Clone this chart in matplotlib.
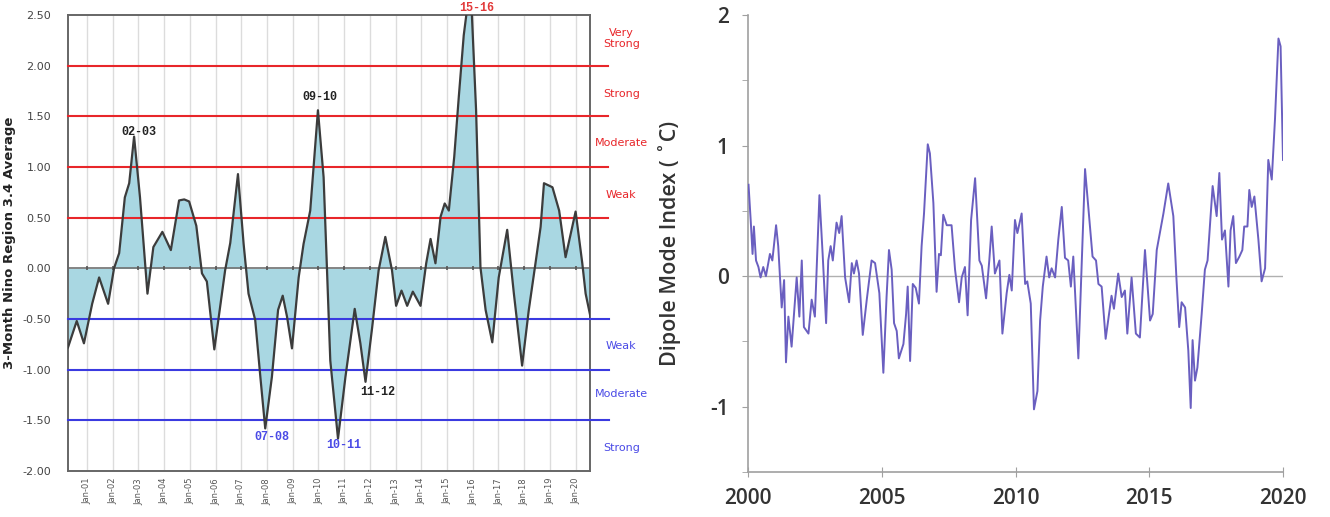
import matplotlib
matplotlib.use("Agg")
import matplotlib.pyplot as plt
import numpy as np

plt.rcParams["axes.unicode_minus"] = False

# ---------------- Left chart data (ONI, 3-month Nino 3.4 average) ----------------
enso_t = [2000.26, 2000.6, 2000.88, 2001.2, 2001.47, 2001.82, 2002.05, 2002.25, 2002.47, 2002.64,
          2002.83, 2003.06, 2003.35, 2003.58, 2003.93, 2004.26, 2004.58, 2004.78, 2004.97, 2005.25,
          2005.47, 2005.66, 2005.95, 2006.37, 2006.57, 2006.87, 2007.09, 2007.28, 2007.54, 2007.74,
          2007.93, 2008.19, 2008.43, 2008.61, 2008.78, 2008.97, 2009.23, 2009.42, 2009.68, 2009.98,
          2010.2, 2010.33, 2010.46, 2010.76, 2011.05, 2011.41, 2011.63, 2011.83, 2012.09, 2012.34,
          2012.6, 2012.86, 2013.02, 2013.23, 2013.45, 2013.67, 2013.97, 2014.19, 2014.36, 2014.55,
          2014.75, 2014.91, 2015.07, 2015.28, 2015.46, 2015.65, 2015.8, 2015.95, 2016.13, 2016.3,
          2016.5, 2016.76, 2017.01, 2017.34, 2017.6, 2017.92, 2018.18, 2018.44, 2018.64, 2018.77,
          2019.1, 2019.36, 2019.61, 2020.0, 2020.26, 2020.39, 2020.58]
enso_v = [-0.78, -0.52, -0.74, -0.35, -0.09, -0.35, 0.0, 0.15, 0.70, 0.84,
          1.30, 0.70, -0.25, 0.21, 0.36, 0.18, 0.67, 0.68, 0.66, 0.42,
          -0.05, -0.13, -0.80, -0.02, 0.25, 0.93, 0.24, -0.25, -0.51, -1.07,
          -1.58, -1.07, -0.41, -0.27, -0.48, -0.79, -0.09, 0.24, 0.57, 1.56,
          0.90, 0.0, -0.91, -1.68, -1.07, -0.40, -0.74, -1.12, -0.58, -0.02,
          0.31, -0.02, -0.37, -0.22, -0.37, -0.23, -0.37, 0.05, 0.29, 0.05,
          0.51, 0.64, 0.57, 1.10, 1.70, 2.30, 2.60, 2.60, 1.56, 0.01,
          -0.41, -0.73, -0.09, 0.38, -0.25, -0.96, -0.41, 0.05, 0.41, 0.84,
          0.80, 0.57, 0.11, 0.56, 0.05, -0.25, -0.48]

enso_years = list(range(2001, 2021))
enso_ticklabels = ["Jan-%02d" % (y - 2000) for y in enso_years]
enso_yticks = [-2.0, -1.5, -1.0, -0.5, 0.0, 0.5, 1.0, 1.5, 2.0, 2.5]

warm_levels = [0.5, 1.0, 1.5, 2.0]
cold_levels = [-0.5, -1.0, -1.5]
warm_names = ["Very\nStrong", "Strong", "Moderate", "Weak"]
warm_name_y = [2.27, 1.72, 1.24, 0.72]
cold_names = ["Weak", "Moderate", "Strong"]
cold_name_y = [-0.77, -1.24, -1.77]

event_labels = ["02-03", "09-10", "15-16", "07-08", "10-11", "11-12"]
event_x = [2003.0, 2010.07, 2016.15, 2008.2, 2010.97, 2012.3]
event_y = [1.35, 1.63, 2.57, -1.66, -1.74, -1.22]
event_va = ["center", "bottom", "center", "center", "center", "center"]
event_col = ["#222222", "#222222", "#e23a3a", "#4a4ae6", "#4a4ae6", "#222222"]

# ---------------- Right chart data (Dipole Mode Index) ----------------
dmi_t = [2000.02, 2000.1, 2000.17, 2000.22, 2000.3, 2000.39, 2000.47, 2000.57, 2000.67, 2000.82,
         2000.91, 2001.05, 2001.13, 2001.26, 2001.35, 2001.42, 2001.51, 2001.63, 2001.82, 2001.92,
         2002.01, 2002.09, 2002.26, 2002.38, 2002.5, 2002.67, 2002.79, 2002.92, 2003.0, 2003.09,
         2003.17, 2003.31, 2003.41, 2003.5, 2003.63, 2003.78, 2003.88, 2003.96, 2004.06, 2004.15,
         2004.29, 2004.44, 2004.62, 2004.75, 2004.91, 2005.06, 2005.18, 2005.27, 2005.37, 2005.46,
         2005.56, 2005.64, 2005.81, 2005.91, 2005.97, 2006.06, 2006.16, 2006.27, 2006.39, 2006.49,
         2006.58, 2006.72, 2006.8, 2006.93, 2007.05, 2007.14, 2007.21, 2007.3, 2007.43, 2007.61,
         2007.74, 2007.89, 2007.99, 2008.11, 2008.21, 2008.34, 2008.49, 2008.65, 2008.74, 2008.9,
         2009.02, 2009.11, 2009.23, 2009.4, 2009.51, 2009.67, 2009.77, 2009.86, 2009.98, 2010.07,
         2010.23, 2010.36, 2010.44, 2010.57, 2010.69, 2010.82, 2010.92, 2011.02, 2011.16, 2011.26,
         2011.35, 2011.48, 2011.6, 2011.73, 2011.85, 2011.97, 2012.07, 2012.16, 2012.35, 2012.47,
         2012.6, 2012.72, 2012.88, 2013.01, 2013.1, 2013.22, 2013.37, 2013.59, 2013.68, 2013.84,
         2013.97, 2014.09, 2014.18, 2014.34, 2014.5, 2014.65, 2014.84, 2015.03, 2015.13, 2015.28,
         2015.53, 2015.71, 2015.9, 2016.02, 2016.12, 2016.21, 2016.34, 2016.46, 2016.55, 2016.62,
         2016.71, 2016.8, 2016.96, 2017.08, 2017.18, 2017.37, 2017.52, 2017.62, 2017.72, 2017.83,
         2017.96, 2018.04, 2018.14, 2018.24, 2018.37, 2018.48, 2018.55, 2018.67, 2018.74, 2018.83,
         2018.93, 2019.08, 2019.2, 2019.33, 2019.45, 2019.58, 2019.7, 2019.83, 2019.91, 2020.0]
dmi_v = [0.70, 0.43, 0.17, 0.38, 0.12, 0.07, -0.01, 0.07, 0.0, 0.17,
         0.12, 0.39, 0.23, -0.24, -0.03, -0.66, -0.31, -0.54, -0.01, -0.31,
         0.12, -0.39, -0.44, -0.18, -0.31, 0.62, 0.17, -0.36, 0.12, 0.23,
         0.12, 0.41, 0.33, 0.46, -0.01, -0.20, 0.10, 0.02, 0.12, 0.02,
         -0.45, -0.18, 0.12, 0.10, -0.13, -0.74, -0.16, 0.20, 0.05, -0.36,
         -0.42, -0.63, -0.52, -0.29, -0.08, -0.65, -0.06, -0.09, -0.21, 0.23,
         0.48, 1.01, 0.94, 0.56, -0.12, 0.17, 0.16, 0.47, 0.39, 0.39,
         0.05, -0.20, -0.01, 0.07, -0.30, 0.43, 0.75, 0.12, 0.08, -0.17,
         0.12, 0.38, 0.02, 0.12, -0.44, -0.13, 0.01, -0.11, 0.43, 0.33,
         0.48, -0.06, -0.04, -0.21, -1.02, -0.88, -0.34, -0.08, 0.15, -0.01,
         0.06, -0.01, 0.28, 0.53, 0.14, 0.12, -0.08, 0.15, -0.63, 0.07,
         0.82, 0.53, 0.15, 0.12, -0.06, -0.08, -0.48, -0.15, -0.25, 0.02,
         -0.16, -0.11, -0.44, -0.01, -0.44, -0.47, 0.20, -0.34, -0.29, 0.20,
         0.48, 0.71, 0.46, -0.03, -0.39, -0.20, -0.24, -0.57, -1.01, -0.49,
         -0.80, -0.70, -0.29, 0.05, 0.12, 0.69, 0.46, 0.79, 0.28, 0.35,
         -0.08, 0.35, 0.46, 0.10, 0.15, 0.20, 0.38, 0.38, 0.66, 0.53,
         0.61, 0.28, -0.04, 0.06, 0.89, 0.74, 1.20, 1.82, 1.76, 0.89]

dmi_xticks = [2000, 2005, 2010, 2015, 2020]
dmi_yticks = [-1, 0, 1, 2]
dmi_minor = [-1.5, -0.5, 0.5, 1.5]

# ---------------- Figure ----------------
fig = plt.figure(figsize=(13.3, 5.17), dpi=100)

# Left axes
axL = fig.add_axes([68 / 1330, 1 - 471 / 517, (590 - 68) / 1330, (471 - 15) / 517])
axL.set_xlim(2000.26, 2020.56)
axL.set_ylim(-2.0, 2.5)

for y in enso_years:
    axL.axvline(y, color="#dcdcdc", lw=1.0, zorder=0)

axL.fill_between(enso_t, enso_v, 0, color="#a9d7e2", lw=0, zorder=1)
axL.axhline(0, color="#707070", lw=1.2, zorder=2)
axL.plot(enso_years, [0] * len(enso_years), ls="none", marker="|", ms=3, mew=1.2,
         color="#555555", zorder=2)

for lv in warm_levels:
    axL.axhline(lv, xmin=0, xmax=1.034, color="#e8262a", lw=1.5, zorder=3, clip_on=False)
for lv in cold_levels:
    axL.axhline(lv, xmin=0, xmax=1.037, color="#3a3ae0", lw=1.5, zorder=3, clip_on=False)

axL.plot(enso_t, enso_v, color="#3c3c3c", lw=1.6, zorder=4)

for name, yy in zip(warm_names, warm_name_y):
    axL.text(1.06, yy, name, transform=axL.get_yaxis_transform(), ha="center", va="center",
             fontsize=8, color="#e8262a", linespacing=1.1)
for name, yy in zip(cold_names, cold_name_y):
    axL.text(1.06, yy, name, transform=axL.get_yaxis_transform(), ha="center", va="center",
             fontsize=8, color="#4a4ae6")

for lab, ex, ey, va, c in zip(event_labels, event_x, event_y, event_va, event_col):
    axL.text(ex, ey, lab, ha="center", va=va,
             fontsize=8.5, fontweight="bold", family="Liberation Mono", color=c,
             zorder=6, clip_on=False)

axL.set_yticks(enso_yticks)
axL.set_yticklabels(["%.2f" % v for v in enso_yticks])
axL.set_xticks(enso_years)
axL.set_xticklabels(enso_ticklabels, rotation=90)
axL.tick_params(axis="y", length=0, pad=12, labelsize=8, labelcolor="#444444")
axL.tick_params(axis="x", length=0, pad=5, labelsize=6, labelcolor="#555555")
for s in axL.spines.values():
    s.set_color("#666666")
    s.set_linewidth(1.4)
axL.set_ylabel("3-Month Nino Region 3.4 Average", fontsize=9.5, fontweight="bold", color="#222222")
axL.yaxis.set_label_coords(-0.1, 0.5)

# Right axes
axR = fig.add_axes([748 / 1330, 1 - 472 / 517, (1283 - 748) / 1330, (472 - 15) / 517])
axR.set_xlim(2000, 2020)
axR.set_ylim(-1.5, 2.0)
axR.axhline(0, color="#b0b0b0", lw=1.0, zorder=1)
axR.plot(dmi_t, dmi_v, color="#6a5fc0", lw=1.4, zorder=3)
axR.set_xticks(dmi_xticks)
axR.set_yticks(dmi_yticks)
axR.set_yticks(dmi_minor, minor=True)
axR.spines["top"].set_visible(False)
axR.spines["right"].set_visible(False)
for s in ("left", "bottom"):
    axR.spines[s].set_color("#a0a0a0")
    axR.spines[s].set_linewidth(1.2)
axR.tick_params(axis="y", which="both", direction="out", length=4, color="#a0a0a0",
                labelsize=15, labelcolor="#333333", pad=10)
axR.tick_params(axis="x", direction="inout", length=7, color="#a0a0a0",
                labelsize=15, labelcolor="#333333", pad=8)
for lab in axR.get_xticklabels() + axR.get_yticklabels():
    lab.set_family("Open Sans")
    lab.set_fontweight("semibold")
axR.set_ylabel("Dipole Mode Index ( \u02daC)", fontsize=15.5, family="Open Sans",
               fontweight="semibold", color="#333333")
axR.yaxis.set_label_coords(-0.125, 0.5)

fig.savefig("out.png", dpi=100, facecolor="white")
